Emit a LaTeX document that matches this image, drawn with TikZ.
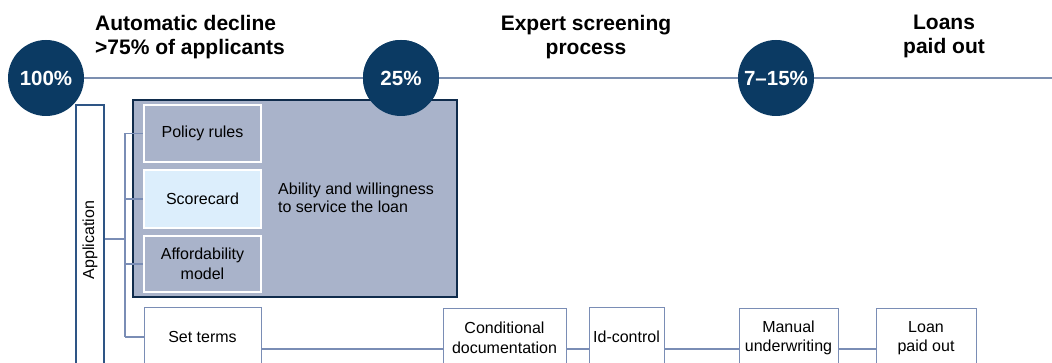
\documentclass[tikz,border=0pt]{standalone}
\usepackage{fontspec}
\setmainfont{Liberation Sans}
\definecolor{navy}{HTML}{0B3A63}
\definecolor{boxnavy}{HTML}{102C4C}
\definecolor{linegray}{HTML}{7C8FB0}
\definecolor{conn}{HTML}{7A8DB5}
\definecolor{bigfill}{HTML}{A9B3CA}
\definecolor{scfill}{HTML}{DCEEFC}
\definecolor{appborder}{HTML}{2E5585}
\begin{document}
\begin{tikzpicture}[x=1pt,y=-1pt,
  pct/.style={circle,fill=navy,minimum size=76pt,inner sep=0pt,text=white,font=\fontsize{20.5}{23}\selectfont\bfseries},
  head/.style={inner sep=0pt,font=\fontsize{21}{24}\selectfont\bfseries},
  body/.style={font=\fontsize{16}{19.5}\selectfont},
  inbox/.style={draw=white,line width=1.2pt,minimum width=117pt,inner sep=0pt,align=center,body},
  flowbox/.style={draw=conn,line width=1pt,fill=white,inner sep=0pt,minimum height=58pt,align=center,body},
  cline/.style={draw=conn,line width=1.3pt}]
\useasboundingbox (0,0) rectangle (1052,363);
\clip (0,0) rectangle (1052,363);
% timeline
\coordinate (lineend) at (1052,78);
\node[pct] (c100) at (46,78) {100\%};
\node[pct] (c25) at (401,78) {25\%};
\node[pct] (c715) at (776,78) {7–15\%};
\draw[draw=linegray,line width=2pt] (c100) -- (c25) -- (c715) -- (lineend);
% headings
\node[head,anchor=north west,align=left] (h1) at (95,15) {Automatic decline\\>75\% of applicants};
\node[head,anchor=north,align=center] (h2) at (586,15) {Expert screening\\process};
\node[head,anchor=north,align=center] (h3) at (944,15) {Loans\\paid out};
% application
\node[draw=appborder,line width=1.2pt,fill=white,minimum width=28pt,minimum height=270pt,inner sep=0pt] (app) at (90,240) {};
\node[body,rotate=90] (apptext) at (app.center) {Application};
% big box
\node[draw=boxnavy,line width=2.4pt,fill=bigfill,minimum width=324pt,minimum height=197pt,inner sep=0pt] (big) at (295,198.5) {};
\node[inbox,fill=bigfill,minimum height=57pt] (policy) at (202.5,133.5) {Policy rules};
\node[inbox,fill=scfill,minimum height=58pt] (score) at (202.5,199) {Scorecard};
\node[inbox,fill=bigfill,minimum height=56pt] (afford) at (202.5,264) {Affordability\\model};
\node[body,anchor=west,align=left,inner sep=0pt,font=\fontsize{16}{18}\selectfont] (ability) at (278,198) {Ability and willingness\\to service the loan};
% flow boxes
\node[flowbox,minimum width=117pt] (setterms) at (202.5,337) {Set terms};
\node[flowbox,minimum width=123pt] (cond) at (504.5,338) {Conditional\\documentation};
\node[flowbox,minimum width=75pt] (idc) at (626.5,337) {Id-control};
\node[flowbox,minimum width=99pt] (manual) at (788.5,338) {Manual\\underwriting};
\node[flowbox,minimum width=100pt] (paid) at (926,338) {Loan\\paid out};
% connectors
\coordinate (bus) at (125,239);
\coordinate (flowy) at (0,349);
\draw[cline] (app.east |- bus) -- (bus);
\draw[cline] (bus |- policy) -- (bus |- setterms);
\draw[cline] (bus |- policy) -- (policy.west);
\draw[cline] (bus |- score) -- (score.west);
\draw[cline] (bus |- afford) -- (afford.west);
\draw[cline] (bus |- setterms) -- (setterms.west);
\draw[cline] (setterms.east |- flowy) -- (cond.west |- flowy);
\draw[cline] (cond.east |- flowy) -- (idc.west |- flowy);
\draw[cline] (idc.east |- flowy) -- (manual.west |- flowy);
\draw[cline] (manual.east |- flowy) -- (paid.west |- flowy);
% circles on top
\node[pct] at (c25) {25\%};
\end{tikzpicture}
\end{document}
